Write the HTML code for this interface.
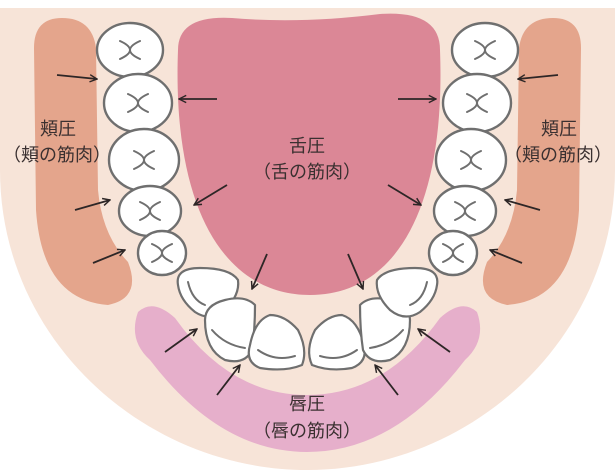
<!DOCTYPE html>
<html><head><meta charset="utf-8"><style>
html,body{margin:0;padding:0;background:#fff;}
svg{display:block;}
text{font-family:"Liberation Sans","Noto Sans CJK JP",sans-serif;font-size:18px;fill:#3a3030;text-anchor:middle;}
</style></head><body>
<svg width="615" height="473" viewBox="0 0 615 473" xmlns="http://www.w3.org/2000/svg">
<defs>
<marker id="ah" viewBox="0 0 10 10" refX="9" refY="5" markerWidth="9" markerHeight="9" orient="auto" markerUnits="userSpaceOnUse">
<path d="M1,1 L9,5 L1,9" fill="none" stroke="#2d2626" stroke-width="1.6"/>
</marker>
<g id="molar">
<path d="M-10,-9 Q10,0 -10,9 M10,-9 Q-10,0 10,9" fill="none" stroke="#6f6f6f" stroke-width="2" stroke-linecap="round"/>
</g>
</defs>
<path d="M0,8 L615,8 L615,170 C615,340 470,470 307,470 C145,470 0,340 0,170 Z" fill="#f7e4d8"/>
<path d="M34,48 Q34,18 62,18 Q92,18 96,48 L98,190 Q102,235 128,262 Q142,298 108,305 Q42,300 36,210 Z" fill="#e4a58c"/>
<path d="M581,48 Q581,18 553,18 Q523,18 519,48 L517,190 Q513,235 487,262 Q473,298 507,305 Q573,300 579,210 Z" fill="#e4a58c"/>
<path d="M138,312 Q128,340 150,360 Q220,452 307,452 Q395,452 465,360 Q487,340 477,312 Q462,298 440,318 Q385,395 307,395 Q230,395 175,318 Q153,298 138,312 Z" fill="#e6afcb"/>
<path d="M178,50 Q178,15 232,18 Q300,24 380,14 Q440,10 440,50 C446,210 395,295 310,295 C225,295 172,210 178,50 Z" fill="#db8796"/>
<g fill="#fff" stroke="#6f6f6f" stroke-width="2.4">
<ellipse cx="130" cy="50" rx="33" ry="27"/>
<ellipse cx="138" cy="103" rx="34" ry="29"/>
<ellipse cx="144" cy="160" rx="35" ry="31"/>
<ellipse cx="150" cy="211" rx="31" ry="25"/>
<ellipse cx="162" cy="253" rx="24" ry="22"/>
<ellipse cx="485" cy="50" rx="33" ry="27"/>
<ellipse cx="477" cy="103" rx="34" ry="29"/>
<ellipse cx="471" cy="160" rx="35" ry="31"/>
<ellipse cx="465" cy="211" rx="31" ry="25"/>
<ellipse cx="453" cy="253" rx="24" ry="22"/>
</g>
<use href="#molar" x="130" y="50"/><use href="#molar" x="138" y="103"/><use href="#molar" x="144" y="160"/><use href="#molar" x="150" y="211"/><use href="#molar" x="162" y="253"/>
<use href="#molar" x="485" y="50"/><use href="#molar" x="477" y="103"/><use href="#molar" x="471" y="160"/><use href="#molar" x="465" y="211"/><use href="#molar" x="453" y="253"/>
<g fill="#fff" stroke="#6f6f6f" stroke-width="2.2" stroke-linejoin="round">
<path d="M178,285 Q175,268 200,268 Q230,268 238,280 Q240,295 225,310 Q210,322 195,312 Q180,300 178,285 Z"/>
<path d="M205,320 Q205,305 225,300 Q245,295 255,305 Q255,330 252,350 Q245,365 225,360 Q205,350 205,320 Z"/>
<path d="M250,345 Q255,320 270,315 Q285,315 298,330 Q308,350 302,365 Q285,372 260,368 Q245,362 250,345 Z"/>
<path d="M312,365 Q305,350 315,330 Q328,315 342,315 Q358,320 364,345 Q368,362 352,368 Q330,372 312,365 Z"/>
<path d="M360,305 Q370,295 390,300 Q410,305 410,320 Q410,350 390,360 Q370,365 363,350 Q360,330 360,305 Z"/>
<path d="M377,280 Q385,268 415,268 Q440,268 437,285 Q435,300 420,312 Q405,322 390,310 Q375,295 377,280 Z"/>
</g>
<g fill="none" stroke="#6f6f6f" stroke-width="2" stroke-linecap="round">
<path d="M188,282 Q192,300 205,305"/>
<path d="M212,330 Q225,345 245,348"/>
<path d="M258,350 Q275,362 295,356"/>
<path d="M320,356 Q340,362 357,350"/>
<path d="M370,348 Q390,345 403,330"/>
<path d="M410,305 Q423,300 427,282"/>
</g>
<g stroke="#2d2626" stroke-width="1.8" marker-end="url(#ah)">
<line x1="57" y1="75" x2="97" y2="79"/>
<line x1="217" y1="99" x2="179" y2="99"/>
<line x1="75" y1="210" x2="110" y2="200"/>
<line x1="93" y1="263" x2="125" y2="250"/>
<line x1="227" y1="185" x2="194" y2="205"/>
<line x1="267" y1="254" x2="252" y2="289"/>
<line x1="165" y1="352" x2="197" y2="329"/>
<line x1="217" y1="395" x2="240" y2="365"/>
<line x1="558" y1="75" x2="518" y2="79"/>
<line x1="398" y1="99" x2="436" y2="99"/>
<line x1="540" y1="210" x2="505" y2="200"/>
<line x1="522" y1="263" x2="490" y2="250"/>
<line x1="388" y1="185" x2="421" y2="205"/>
<line x1="348" y1="254" x2="363" y2="289"/>
<line x1="450" y1="352" x2="418" y2="329"/>
<line x1="398" y1="395" x2="375" y2="365"/>
</g>
<text x="58" y="135">頬圧</text>
<text x="57" y="161">（頬の筋肉）</text>
<text x="559" y="135">頬圧</text>
<text x="558" y="161">（頬の筋肉）</text>
<text x="307" y="152">舌圧</text>
<text x="307" y="178">（舌の筋肉）</text>
<text x="307" y="410">唇圧</text>
<text x="307" y="437">（唇の筋肉）</text>
</svg>
</body></html>
